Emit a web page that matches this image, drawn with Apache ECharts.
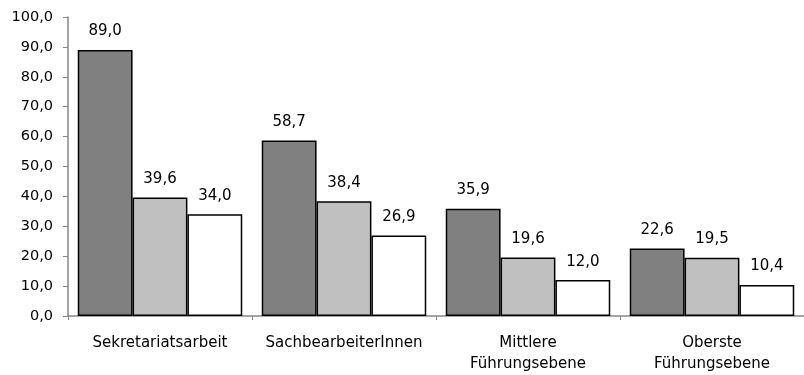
<!DOCTYPE html>
<html>
<head>
<meta charset="utf-8">
<script src="https://cdn.jsdelivr.net/npm/echarts@6/dist/echarts.min.js"></script>
<style>html,body{margin:0;padding:0;background:#fff}#c{width:804px;height:375px}</style>
</head>
<body>
<div id="c"></div>
<script>
var categories = ['Sekretariatsarbeit', 'SachbearbeiterInnen', 'Mittlere\nFührungsebene', 'Oberste\nFührungsebene'];
var seriesA = [89.0, 58.7, 35.9, 22.6];
var seriesB = [39.6, 38.4, 19.6, 19.5];
var seriesC = [34.0, 26.9, 12.0, 10.4];
var yTicks = [0, 10, 20, 30, 40, 50, 60, 70, 80, 90, 100];

var FONT = 'DejaVu Sans';
function fmt(v){ return Number(v).toFixed(1).replace('.', ','); }
function mk(data, color){
  return {
    type: 'bar', data: data, barGap: '0%', barCategoryGap: '10.6%',
    itemStyle: { color: color, borderColor: '#000', borderWidth: 1.5 },
    label: { show: true, position: 'top', distance: 11, color: '#000', fontFamily: FONT, fontSize: 15,
      formatter: function(p){ return fmt(p.value); } },
    animation: false
  };
}
var chart = echarts.init(document.getElementById('c'), null, {renderer: 'canvas'});
chart.setOption({
  animation: false,
  grid: { left: 68, right: -1, top: 17, bottom: 58, containLabel: false },
  xAxis: {
    type: 'category', data: categories,
    axisLine: { lineStyle: { color: '#868686', width: 1.5 } },
    axisTick: { show: true, length: 4, lineStyle: { color: '#868686' } },
    axisLabel: { color: '#000', fontFamily: FONT, fontSize: 15, margin: 17, lineHeight: 21, interval: 0 }
  },
  yAxis: {
    type: 'value', min: yTicks[0], max: yTicks[yTicks.length-1], interval: 10,
    axisLine: { show: true, lineStyle: { color: '#868686', width: 1.5 } },
    axisTick: { show: true, length: 5, lineStyle: { color: '#868686' } },
    splitLine: { show: false },
    axisLabel: { color: '#000', fontFamily: FONT, fontSize: 14.5, margin: 15, formatter: fmt }
  },
  series: [mk(seriesA, '#808080'), mk(seriesB, '#c0c0c0'), mk(seriesC, '#ffffff')]
});
</script>
</body>
</html>
